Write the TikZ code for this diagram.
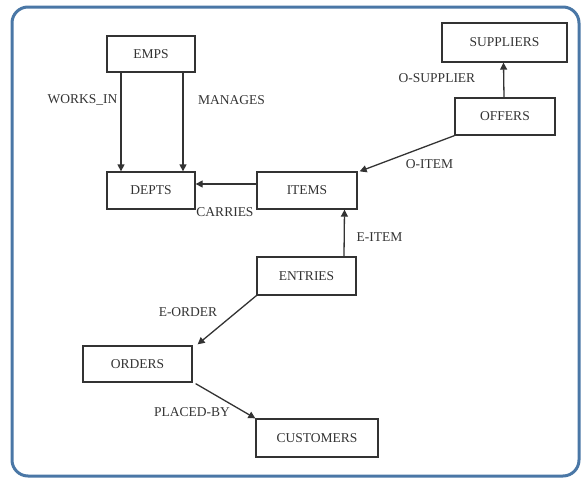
\documentclass[tikz,border=0pt]{standalone}
\usepackage{fontspec}
\setmainfont{Liberation Serif}
\usetikzlibrary{arrows.meta}
\definecolor{framecol}{HTML}{4A77A6}
\definecolor{ink}{HTML}{333333}
\tikzset{
  entity/.style={draw=ink, line width=1.3pt, rectangle, inner sep=0pt, text=ink, font=\fontsize{13.5}{15}\selectfont},
  lbl/.style={inner sep=0pt, text=ink, font=\fontsize{13.5}{15}\selectfont},
  arr/.style={draw=ink, line width=1.3pt, -{Triangle[length=7pt,width=7pt]}}
}
\begin{document}
\begin{tikzpicture}[x=1pt,y=-1pt]
\useasboundingbox (0,0) rectangle (582,480);
\draw[framecol, line width=3pt, rounded corners=16pt] (12,7) rectangle (579,476);
% entities
\node[entity, minimum width=88pt, minimum height=36pt] (emps) at (151,54) {EMPS};
\node[entity, minimum width=88pt, minimum height=37pt] (depts) at (151,190.5) {DEPTS};
\node[entity, minimum width=100pt, minimum height=37pt] (items) at (307,190.5) {ITEMS};
\node[entity, minimum width=125pt, minimum height=39pt] (suppliers) at (504.5,42.5) {SUPPLIERS};
\node[entity, minimum width=100pt, minimum height=37pt] (offers) at (505,116.5) {OFFERS};
\node[entity, minimum width=99pt, minimum height=38pt] (entries) at (306.5,276) {ENTRIES};
\node[entity, minimum width=109pt, minimum height=36pt] (orders) at (137.5,364) {ORDERS};
\node[entity, minimum width=122pt, minimum height=38pt] (customers) at (317,438) {CUSTOMERS};
% connectors
\draw[arr] ([xshift=-30pt]emps.south) -- ([xshift=-30pt]depts.north);
\draw[arr] ([xshift=32pt]emps.south) -- ([xshift=32pt]depts.north);
\draw[arr] ([yshift=6.5pt]items.west) -- ([yshift=6.5pt]depts.east);
\draw[arr] ([xshift=-1pt]offers.north) -- ([xshift=-1pt]suppliers.south);
\draw[arr] (offers.south west) -- ([xshift=2pt]items.north east);
\draw[arr] ([xshift=37.5pt]entries.north) -- ([xshift=37.5pt]items.south);
\draw[arr] (entries.south west) -- ([xshift=5pt,yshift=1pt]orders.north east);
\draw[arr] ([xshift=3pt,yshift=-1pt]orders.south east) -- (customers.north west);
% labels
\node[lbl] (lworks) at (82.5,100) {WORKS\_IN};
\node[lbl] (lmanages) at (231.5,100) {MANAGES};
\node[lbl] (lcarries) at (225,212) {CARRIES};
\node[lbl] (losupp) at (437,78) {O-SUPPLIER};
\node[lbl] (loitem) at (429.5,164) {O-ITEM};
\node[lbl] (leitem) at (379.5,237) {E-ITEM};
\node[lbl] (leorder) at (188,312) {E-ORDER};
\node[lbl] (lplaced) at (192,412) {PLACED-BY};
\end{tikzpicture}
\end{document}
